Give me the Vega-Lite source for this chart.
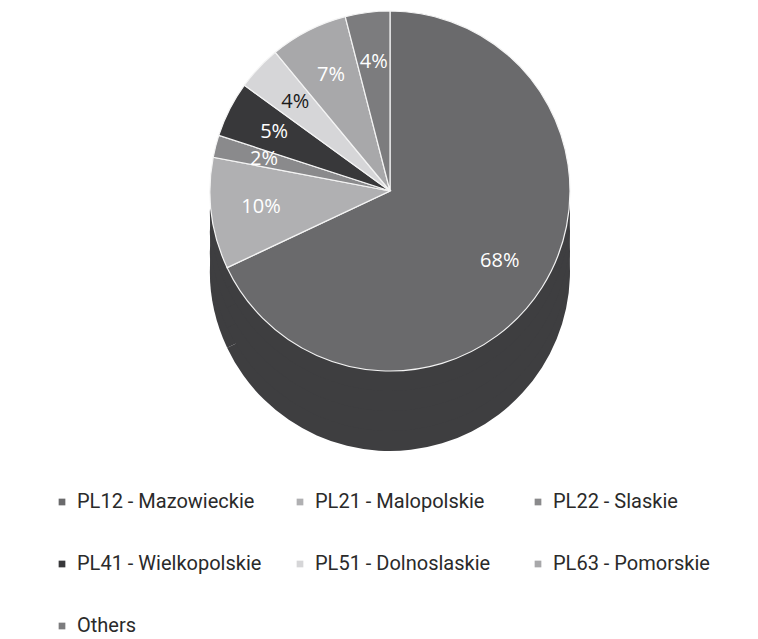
{
  "$schema": "https://vega.github.io/schema/vega-lite/v6.json",
  "width": 780,
  "height": 382,
  "autosize": "none",
  "padding": {"left": 0, "top": 0, "right": 0, "bottom": 257},
  "background": "white",
  "data": {
    "values": [
      {"region": "PL12 - Mazowieckie", "share": 68, "label": "68%", "o": 1},
      {"region": "PL21 - Malopolskie", "share": 10, "label": "10%", "o": 2},
      {"region": "PL22 - Slaskie", "share": 2, "label": "2%", "o": 3},
      {"region": "PL41 - Wielkopolskie", "share": 5, "label": "5%", "o": 4},
      {"region": "PL51 - Dolnoslaskie", "share": 4, "label": "4%", "o": 5},
      {"region": "PL63 - Pomorskie", "share": 7, "label": "7%", "o": 6},
      {"region": "Others", "share": 4, "label": "4%", "o": 7}
    ]
  },
  "encoding": {
    "theta": {"field": "share", "type": "quantitative", "stack": true},
    "order": {"field": "o", "type": "quantitative"}
  },
  "layer": [
    {"mark": {"type": "arc", "radius": 180, "yOffset": 80, "fill": "#3e3e40"}},
    {"mark": {"type": "arc", "radius": 180, "yOffset": 60, "fill": "#3e3e40"}},
    {"mark": {"type": "arc", "radius": 180, "yOffset": 40, "fill": "#3e3e40"}},
    {"mark": {"type": "arc", "radius": 180, "yOffset": 20, "fill": "#3e3e40"}},
    {
      "mark": {"type": "arc", "radius": 180, "stroke": "#f4f4f4", "strokeWidth": 1.2},
      "encoding": {
        "color": {
          "field": "region",
          "type": "nominal",
          "sort": null,
          "scale": {
            "domain": ["PL12 - Mazowieckie", "PL21 - Malopolskie", "PL22 - Slaskie", "PL41 - Wielkopolskie", "PL51 - Dolnoslaskie", "PL63 - Pomorskie", "Others"],
            "range": ["#6a6a6c", "#b0b0b2", "#8a8a8c", "#38383a", "#d6d6d8", "#a8a8aa", "#7c7c7e"]
          },
          "legend": {
            "title": null,
            "orient": "none",
            "legendX": 52,
            "legendY": 492,
            "direction": "horizontal",
            "columns": 3,
            "gridAlign": "all",
            "symbolType": "square",
            "symbolSize": 45,
            "symbolStrokeWidth": 0,
            "labelFont": "Roboto",
            "labelFontSize": 20,
            "labelColor": "#2a2a2a",
            "labelOffset": 5,
            "labelLimit": 300,
            "columnPadding": 28,
            "rowPadding": 42,
            "padding": 0
          }
        }
      }
    },
    {
      "mark": {"type": "text", "radius": 130, "font": "Open Sans", "fontSize": 20},
      "encoding": {
        "text": {"field": "label"},
        "color": {
          "condition": {"test": "datum.region === 'PL51 - Dolnoslaskie'", "value": "#1a1a1a"},
          "value": "#ffffff"
        }
      }
    }
  ]
}
